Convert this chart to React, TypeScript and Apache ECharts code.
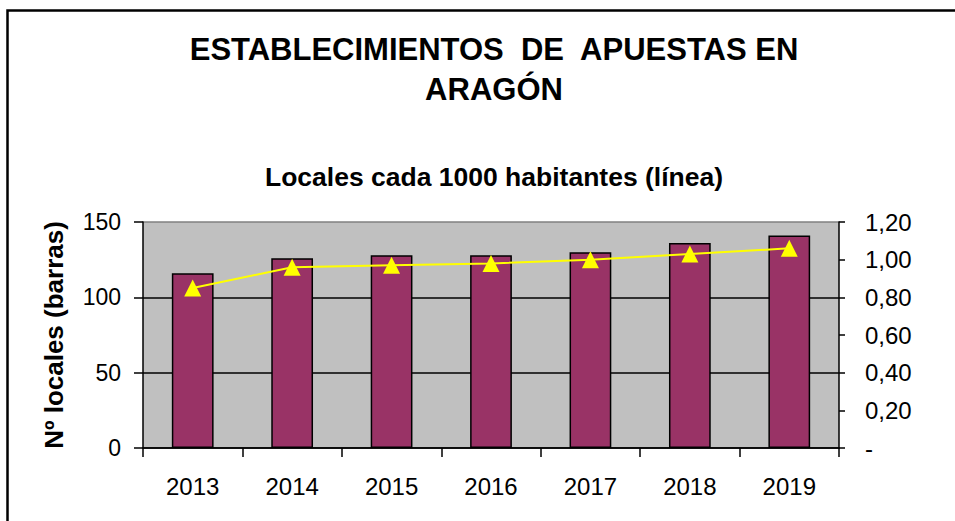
import React, { useEffect, useRef } from "react";
import * as echarts from "echarts";

const years = ["2013", "2014", "2015", "2016", "2017", "2018", "2019"];
const locales = [116, 126, 128, 128, 130, 136, 141];
const localesPor1000 = [0.85, 0.96, 0.97, 0.98, 1.0, 1.03, 1.06];
const titleLines = ["ESTABLECIMIENTOS  DE  APUESTAS EN", "ARAGÓN"];
const subtitleText = "Locales cada 1000 habitantes (línea)";
const leftAxisName = "Nº locales (barras)";

const FONT = "'Liberation Sans', Arial, sans-serif";

export default function App() {
  const ref = useRef<HTMLDivElement>(null);
  useEffect(() => {
    if (!ref.current) return;
    const chart = echarts.init(ref.current, undefined, { renderer: "svg" });
    chart.setOption({
      animation: false,
      backgroundColor: "#ffffff",
      textStyle: { fontFamily: FONT },
      title: [
        {
          text: titleLines.join("\n"),
          left: 489,
          top: 24,
          textAlign: "center",
          textStyle: {
            fontFamily: FONT,
            fontSize: 31,
            fontWeight: "bold",
            color: "#000",
            lineHeight: 40,
          },
        },
        {
          text: subtitleText,
          left: 489,
          top: 158,
          textAlign: "center",
          textStyle: {
            fontFamily: FONT,
            fontSize: 26.5,
            fontWeight: "bold",
            color: "#000",
            lineHeight: 27,
          },
        },
      ],
      graphic: [
        {
          type: "rect",
          shape: { x: 7.5, y: 10.5, width: 980, height: 560 },
          style: { fill: "none", stroke: "#000", lineWidth: 2.5 },
          z: 100,
        },
      ],
      grid: {
        left: 143,
        right: 116,
        top: 222,
        bottom: 73,
        show: true,
        backgroundColor: "#C0C0C0",
        borderWidth: 0,
      },
      xAxis: {
        type: "category",
        data: years,
        boundaryGap: true,
        axisLine: { lineStyle: { color: "#000", width: 1.5 } },
        axisTick: { show: true, alignWithLabel: false, length: 9, lineStyle: { color: "#000", width: 1.5 } },
        axisLabel: { color: "#000", fontSize: 24, fontFamily: FONT, margin: 26 },
      },
      yAxis: [
        {
          type: "value",
          min: 0,
          max: 150,
          interval: 50,
          name: leftAxisName,
          nameLocation: "middle",
          nameGap: 76,
          nameRotate: 90,
          nameTextStyle: { color: "#000", fontSize: 26, fontWeight: "bold", fontFamily: FONT },
          axisLine: { show: true, lineStyle: { color: "#000", width: 1.5 } },
          axisTick: { show: true, length: 9, lineStyle: { color: "#000", width: 1.5 } },
          axisLabel: { color: "#000", fontSize: 23, fontFamily: FONT, margin: 22 },
          splitLine: {
            show: true,
            lineStyle: { color: ["#000", "#000", "#000", "#808080"], width: 1.5 },
          },
        },
        {
          type: "value",
          min: 0,
          max: 1.2,
          interval: 0.2,
          position: "right",
          axisLine: { show: true, lineStyle: { color: "#000", width: 1.5 } },
          axisTick: { show: true, length: 6, lineStyle: { color: "#000", width: 1.5 } },
          axisLabel: {
            color: "#000",
            fontSize: 24,
            fontFamily: FONT,
            margin: 26,
            formatter: (v: number) => (Math.abs(v) < 1e-9 ? "-" : v.toFixed(2).replace(".", ",")),
          },
          splitLine: { show: false },
        },
      ],
      series: [
        {
          type: "bar",
          data: locales,
          yAxisIndex: 0,
          barWidth: "42%",
          itemStyle: { color: "#993366", borderColor: "#000", borderWidth: 1.5 },
        },
        {
          type: "line",
          data: localesPor1000,
          yAxisIndex: 1,
          symbol: "triangle",
          symbolSize: 17,
          lineStyle: { color: "#FFFF00", width: 2 },
          itemStyle: { color: "#FFFF00", borderWidth: 0 },
        },
      ],
    });
    return () => chart.dispose();
  }, []);
  return (
    <div
      ref={ref}
      style={{ position: "fixed", left: 0, top: 0, width: 955, height: 521 }}
    />
  );
}
